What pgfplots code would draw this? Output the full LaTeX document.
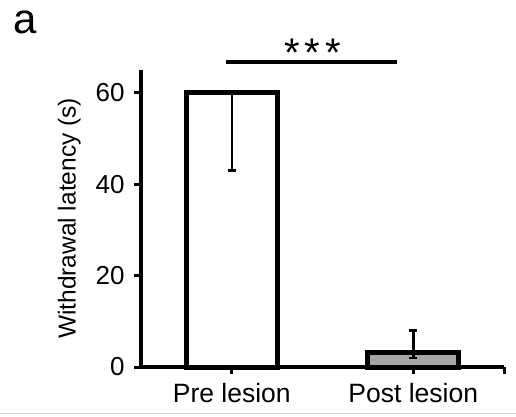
\documentclass[border=0pt]{standalone}
\usepackage{fontspec}
\setmainfont{Liberation Sans}
\usepackage{pgfplots}
\pgfplotsset{compat=1.18}
\definecolor{postgray}{RGB}{166,166,166}

\begin{document}
\begin{tikzpicture}
\useasboundingbox (0,0) rectangle (516pt,416pt);
% panel letter
\node[anchor=base west,inner sep=0pt,font=\fontsize{42}{42}\selectfont] at (13pt,382pt) {a};
% faint rule at the foot of the panel
\draw[black!18,line width=1pt] (0,3pt) -- (516pt,3pt);
\begin{axis}[at={(141pt,49pt)},anchor=south west,
  scale only axis,width=363pt,height=297pt,
  xmin=-0.5,xmax=1.5,ymin=0,ymax=65,
  axis lines=left,axis line style={-,line width=3.5pt,black},
  ytick={0,20,40,60},xtick={0,1},extra x ticks={1.5},extra x tick labels={},
  xticklabels={Pre lesion,Post lesion},
  tick align=outside,major tick length=7pt,
  tick style={line width=3pt,black},
  tick label style={font=\fontsize{26}{26}\selectfont},
  xticklabel style={font=\fontsize{26.5}{26.5}\selectfont,yshift=-6pt},
  yticklabel style={xshift=-6pt},
  /pgf/number format/assume math mode=true,
  ylabel={Withdrawal latency (s)},
  ylabel style={font=\fontsize{24.5}{24.5}\selectfont,yshift=8pt},
  bar width=0.5,ybar,bar shift=0pt,
  clip=false,
  error bars/error bar style={line width=2.5pt,black},
  error bars/error mark options={rotate=90,mark size=4pt,line width=2.5pt}]
\addplot[fill=white,draw=black,line width=5pt,
  error bars/.cd,y dir=minus,y explicit] coordinates {(0,60) -= (0,17)};
\addplot[fill=postgray,draw=black,line width=5pt,
  error bars/.cd,y dir=both,y explicit] coordinates {(1,3.1) += (0,4.9) -= (0,1.1)};
% significance
\draw[line width=4.5pt] (axis cs:-0.03,66.8) -- (axis cs:0.91,66.8);
\node[anchor=base,font=\fontsize{40}{40}\selectfont,inner sep=0pt] at (axis cs:0.445,65.8) {*\hspace{5pt}*\hspace{5pt}*};
\end{axis}
\end{tikzpicture}
\end{document}
